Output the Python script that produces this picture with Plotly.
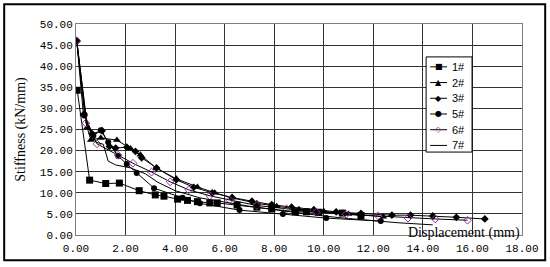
import plotly.graph_objects as go

# displacement (mm) / stiffness (kN/mm) for each specimen
x1 = [0.05, 0.55, 1.2, 1.75, 2.55, 3.2, 3.55, 4.1, 4.5, 4.9, 5.4, 5.7, 6.5, 7.3, 7.9, 8.85, 9.3, 9.8, 10.75, 11.5]
y1 = [34.3, 13.0, 12.2, 12.3, 10.5, 9.5, 9.2, 8.5, 8.2, 7.9, 7.6, 7.6, 7.1, 6.6, 6.2, 5.5, 5.5, 5.4, 5.2, 4.6]

x2 = [0.03, 0.45, 0.6, 1.0, 1.65, 2.2, 2.6, 3.25, 4.05, 4.9, 5.6, 6.3, 7.3, 8.1, 9.0, 10.0, 11.0, 12.4]
y2 = [46.2, 25.5, 22.5, 23.0, 22.5, 20.5, 19.0, 15.8, 13.3, 11.4, 10.0, 8.8, 7.5, 6.8, 6.1, 5.6, 5.0, 4.3]

x3 = [0.03, 0.3, 0.65, 1.05, 1.35, 1.6, 2.05, 2.4, 2.65, 3.25, 4.05, 4.75, 5.5, 6.3, 7.1, 7.9, 8.7, 9.6,
      10.5, 11.5, 12.75, 13.5, 14.4, 15.35, 16.5]
y3 = [46.0, 28.5, 24.0, 24.7, 21.0, 20.6, 20.8, 19.8, 18.3, 15.9, 13.1, 11.3, 10.0, 8.9, 8.0, 7.2, 6.6, 6.0,
      5.5, 5.1, 4.7, 4.7, 4.5, 4.2, 3.8]

x5 = [0.03, 0.35, 0.7, 1.0, 1.3, 1.7, 2.05, 2.45, 3.15, 4.3, 5.0, 6.6, 8.35, 10.1, 12.3]
y5 = [46.0, 28.5, 23.5, 24.8, 22.0, 18.7, 16.8, 14.7, 11.1, 8.8, 7.5, 5.9, 5.0, 4.0, 3.3]

x6 = [0.03, 0.4, 0.85, 1.7, 2.3, 3.05, 3.8, 4.55, 5.4, 6.2, 7.3, 8.5, 9.7, 10.9, 12.2, 13.4, 14.5, 15.8]
y6 = [46.0, 26.5, 21.6, 18.9, 17.0, 14.9, 12.6, 10.7, 9.3, 8.3, 7.0, 6.2, 5.4, 4.9, 4.5, 4.0, 3.8, 3.5]

x7 = [0.03, 0.45, 0.8, 1.1, 1.3, 1.6, 2.2, 2.8, 3.3, 4.0, 5.0, 6.0, 7.0, 8.0, 9.0, 10.0, 11.0, 12.0, 13.0, 14.4]
y7 = [46.0, 26.0, 22.0, 21.5, 17.5, 16.6, 15.9, 14.5, 12.5, 10.5, 8.8, 7.8, 6.8, 6.0, 5.2, 4.5, 3.9, 3.4, 2.9, 2.4]

x_ticks = [0, 2, 4, 6, 8, 10, 12, 14, 16, 18]
y_ticks = [0, 5, 10, 15, 20, 25, 30, 35, 40, 45, 50]

# name, x, y, marker, legend glyph, glyph colour
series = [
    ("1#", x1, y1, dict(symbol="square", size=7, color="black"), "■", "black"),
    ("2#", x2, y2, dict(symbol="triangle-up", size=7, color="black"), "▲", "black"),
    ("3#", x3, y3, dict(symbol="diamond", size=6, color="black"), "◆", "black"),
    ("5#", x5, y5, dict(symbol="circle", size=6, color="black"), "●", "black"),
    ("6#", x6, y6, dict(symbol="diamond-open", size=6, color="#993399", line=dict(width=1)), "◇", "#993399"),
    ("7#", x7, y7, None, "", "black"),
]

fig = go.Figure()
for name, xs, ys, mk, g, gc in series:
    if mk is None:
        fig.add_trace(go.Scatter(x=xs, y=ys, name=name, mode="lines",
                                 line=dict(color="black", width=1)))
    else:
        fig.add_trace(go.Scatter(x=xs, y=ys, name=name, mode="lines+markers",
                                 line=dict(color="black", width=1), marker=mk))

tick_font = dict(family="Liberation Mono", size=11, color="black")

fig.update_xaxes(range=[0, 18], tickvals=x_ticks, ticktext=["%.2f" % v for v in x_ticks],
                 showgrid=True, gridcolor="#333333", gridwidth=1, zeroline=False,
                 showline=True, linecolor="#808080", linewidth=1, mirror=True,
                 ticks="", tickfont=tick_font, ticklabelstandoff=3)
fig.update_yaxes(range=[0, 50], tickvals=y_ticks, ticktext=["%.2f" % v for v in y_ticks],
                 showgrid=True, gridcolor="#333333", gridwidth=1, zeroline=False,
                 showline=True, linecolor="#808080", linewidth=1, mirror=True,
                 ticks="", tickfont=tick_font,
                 title=dict(text="Stiffness (kN/mm)", standoff=10,
                            font=dict(family="Liberation Serif", size=14, color="black")))

fig.add_annotation(text="Displacement (mm)", xref="paper", yref="paper", x=1.0, y=0.0,
                   xanchor="right", yanchor="middle", yshift=2, showarrow=False,
                   font=dict(family="Liberation Serif", size=14, color="black"))

# compact legend box, Excel style
fig.add_shape(type="rect", xref="paper", yref="paper", x0=0.785, x1=0.888, y0=0.393, y1=0.844,
              line=dict(color="black", width=1), fillcolor="white", layer="above")
row_top = 0.797
row_step = 0.0745
for i, (name, xs, ys, mk, g, gc) in enumerate(series):
    ry = row_top - i * row_step
    fig.add_shape(type="line", xref="paper", yref="paper", x0=0.794, x1=0.832, y0=ry, y1=ry,
                  line=dict(color="black", width=1), layer="above")
    if g:
        fig.add_annotation(text=g, xref="paper", yref="paper", x=0.813, y=ry, showarrow=False,
                           xanchor="center", yanchor="middle",
                           font=dict(family="DejaVu Sans", size=8, color=gc))
    fig.add_annotation(text=name, xref="paper", yref="paper", x=0.839, y=ry, showarrow=False,
                       xanchor="left", yanchor="middle",
                       font=dict(family="Liberation Sans", size=11, color="black"))

# outer chart frame
fig.add_shape(type="rect", xref="paper", yref="paper", x0=-0.161, x1=1.052, y0=-0.12, y1=1.094,
              line=dict(color="black", width=2), layer="above")

fig.update_layout(
    width=550, height=267,
    margin=dict(l=76, r=28, t=24, b=32),
    paper_bgcolor="white", plot_bgcolor="white",
    showlegend=False,
)

fig.write_html("out.html", config={"displayModeBar": False},
               post_script="document.body.style.margin='0';")
